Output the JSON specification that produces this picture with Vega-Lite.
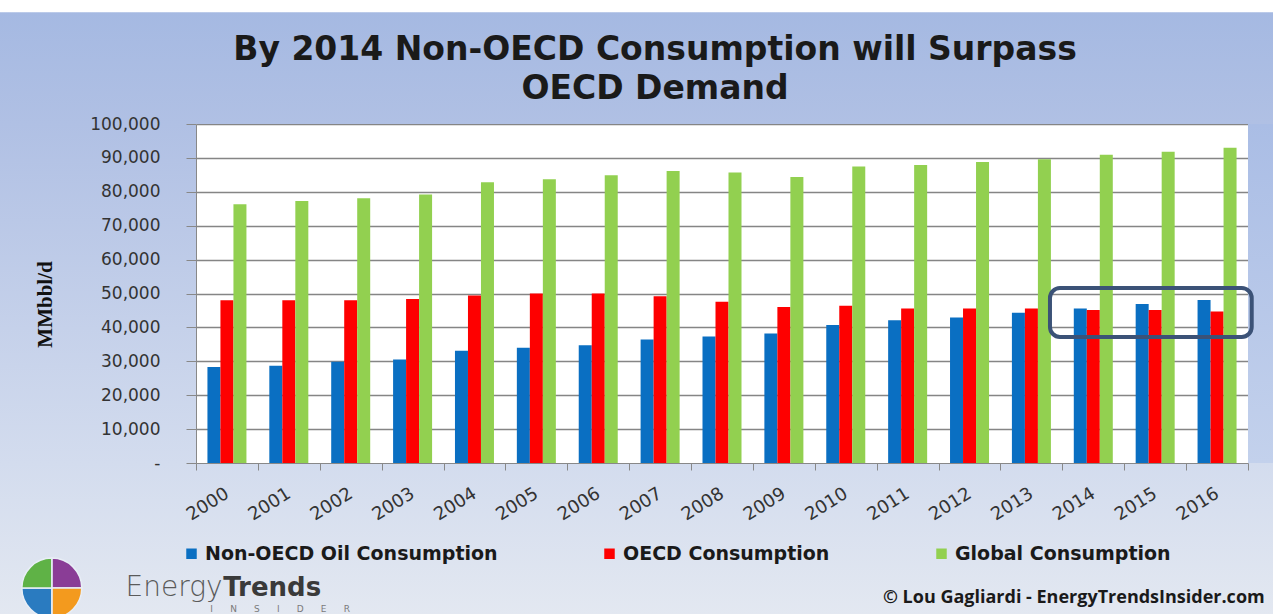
{
  "$schema": "https://vega.github.io/schema/vega-lite/v6.json",
  "width": 1052,
  "height": 339,
  "autosize": "none",
  "padding": {"left": 196, "top": 124, "right": 25, "bottom": 151},
  "background": "white",
  "config": {
    "view": {"fill": "white", "stroke": null},
    "font": "DejaVu Sans",
    "axisY": {
      "titleFont": "Liberation Serif",
      "titleFontSize": 21,
      "titleFontWeight": "bold",
      "titleColor": "#111111",
      "titlePadding": 34,
      "labelFont": "DejaVu Sans",
      "labelFontSize": 17,
      "labelColor": "#333333",
      "labelPadding": 26,
      "labelOverlap": false,
      "tickSize": 10,
      "tickColor": "#888888",
      "domainColor": "#888888",
      "gridColor": "#858585",
      "gridWidth": 1.3
    },
    "axisX": {
      "labelAngle": -32,
      "labelAlign": "right",
      "labelBaseline": "middle",
      "labelFont": "DejaVu Sans",
      "labelFontSize": 18,
      "labelColor": "#333333",
      "labelPadding": 22,
      "labelOverlap": false,
      "tickSize": 7,
      "tickColor": "#888888",
      "domainColor": "#888888",
      "grid": false
    }
  },
  "title": {
    "text": ["By 2014 Non-OECD  Consumption  will Surpass", "OECD Demand"],
    "font": "DejaVu Sans",
    "fontSize": 33,
    "fontWeight": "bold",
    "color": "#1a1a1a",
    "anchor": "middle",
    "frame": "group",
    "dx": -67,
    "dy": 104,
    "offset": 10,
    "lineHeight": 39
  },
  "datasets": {
    "oil": [
      {"year": "2000", "series": "Non-OECD Oil Consumption", "value": 28300},
      {"year": "2000", "series": "OECD Consumption", "value": 48000},
      {"year": "2000", "series": "Global Consumption", "value": 76300},
      {"year": "2001", "series": "Non-OECD Oil Consumption", "value": 28700},
      {"year": "2001", "series": "OECD Consumption", "value": 48000},
      {"year": "2001", "series": "Global Consumption", "value": 77300},
      {"year": "2002", "series": "Non-OECD Oil Consumption", "value": 29900},
      {"year": "2002", "series": "OECD Consumption", "value": 48000},
      {"year": "2002", "series": "Global Consumption", "value": 78100},
      {"year": "2003", "series": "Non-OECD Oil Consumption", "value": 30500},
      {"year": "2003", "series": "OECD Consumption", "value": 48400},
      {"year": "2003", "series": "Global Consumption", "value": 79200},
      {"year": "2004", "series": "Non-OECD Oil Consumption", "value": 33100},
      {"year": "2004", "series": "OECD Consumption", "value": 49400},
      {"year": "2004", "series": "Global Consumption", "value": 82800},
      {"year": "2005", "series": "Non-OECD Oil Consumption", "value": 34000},
      {"year": "2005", "series": "OECD Consumption", "value": 50000},
      {"year": "2005", "series": "Global Consumption", "value": 83700},
      {"year": "2006", "series": "Non-OECD Oil Consumption", "value": 34700},
      {"year": "2006", "series": "OECD Consumption", "value": 50000},
      {"year": "2006", "series": "Global Consumption", "value": 84900},
      {"year": "2007", "series": "Non-OECD Oil Consumption", "value": 36400},
      {"year": "2007", "series": "OECD Consumption", "value": 49200},
      {"year": "2007", "series": "Global Consumption", "value": 86100},
      {"year": "2008", "series": "Non-OECD Oil Consumption", "value": 37300},
      {"year": "2008", "series": "OECD Consumption", "value": 47600},
      {"year": "2008", "series": "Global Consumption", "value": 85700},
      {"year": "2009", "series": "Non-OECD Oil Consumption", "value": 38200},
      {"year": "2009", "series": "OECD Consumption", "value": 46000},
      {"year": "2009", "series": "Global Consumption", "value": 84400},
      {"year": "2010", "series": "Non-OECD Oil Consumption", "value": 40700},
      {"year": "2010", "series": "OECD Consumption", "value": 46400},
      {"year": "2010", "series": "Global Consumption", "value": 87500},
      {"year": "2011", "series": "Non-OECD Oil Consumption", "value": 42100},
      {"year": "2011", "series": "OECD Consumption", "value": 45600},
      {"year": "2011", "series": "Global Consumption", "value": 87900},
      {"year": "2012", "series": "Non-OECD Oil Consumption", "value": 42900},
      {"year": "2012", "series": "OECD Consumption", "value": 45600},
      {"year": "2012", "series": "Global Consumption", "value": 88800},
      {"year": "2013", "series": "Non-OECD Oil Consumption", "value": 44300},
      {"year": "2013", "series": "OECD Consumption", "value": 45600},
      {"year": "2013", "series": "Global Consumption", "value": 89600},
      {"year": "2014", "series": "Non-OECD Oil Consumption", "value": 45600},
      {"year": "2014", "series": "OECD Consumption", "value": 45100},
      {"year": "2014", "series": "Global Consumption", "value": 90900},
      {"year": "2015", "series": "Non-OECD Oil Consumption", "value": 46900},
      {"year": "2015", "series": "OECD Consumption", "value": 45100},
      {"year": "2015", "series": "Global Consumption", "value": 91800},
      {"year": "2016", "series": "Non-OECD Oil Consumption", "value": 48100},
      {"year": "2016", "series": "OECD Consumption", "value": 44700},
      {"year": "2016", "series": "Global Consumption", "value": 93000}
    ],
    "notes": [
      {"copyright": "© Lou Gagliardi - EnergyTrendsInsider.com", "brand1": "Energy", "brand2": "Trends", "brand3": "I\u00a0\u00a0\u00a0\u00a0\u00a0\u00a0N\u00a0\u00a0\u00a0\u00a0\u00a0\u00a0S\u00a0\u00a0\u00a0\u00a0\u00a0\u00a0I\u00a0\u00a0\u00a0\u00a0\u00a0\u00a0D\u00a0\u00a0\u00a0\u00a0\u00a0\u00a0E\u00a0\u00a0\u00a0\u00a0\u00a0\u00a0R"}
    ],
    "logo": [
      {"quadrant": "q1", "share": 1},
      {"quadrant": "q2", "share": 1},
      {"quadrant": "q3", "share": 1},
      {"quadrant": "q4", "share": 1}
    ],
    "frame": [{"part": "background"}]
  },
  "layer": [
    {
      "data": {"name": "frame"},
      "mark": {"type": "rect", "color": {"gradient": "linear", "x1": 0, "y1": 0, "x2": 0, "y2": 1, "stops": [{"offset": 0, "color": "#a5b9e2"}, {"offset": 1, "color": "#b0c0e4"}]}},
      "encoding": {
        "x": {"datum": -3.3, "type": "quantitative", "scale": {"domain": [0, 17], "nice": false, "zero": false}, "axis": null},
        "x2": {"datum": 17.5},
        "y": {"datum": 100000, "type": "quantitative", "scale": {"domain": [0, 100000], "nice": false}, "axis": null},
        "y2": {"datum": 133000}
      }
    },
    {
      "data": {"name": "frame"},
      "mark": {"type": "rect", "color": {"gradient": "linear", "x1": 0, "y1": 0, "x2": 0, "y2": 1, "stops": [{"offset": 0, "color": "#d3dcee"}, {"offset": 1, "color": "#e3e8f1"}]}},
      "encoding": {
        "x": {"datum": -3.3, "type": "quantitative", "scale": {"domain": [0, 17], "nice": false, "zero": false}, "axis": null},
        "x2": {"datum": 17.5},
        "y": {"datum": 0, "type": "quantitative", "scale": {"domain": [0, 100000], "nice": false}, "axis": null},
        "y2": {"datum": -45000}
      }
    },
    {
      "data": {"name": "frame"},
      "mark": {"type": "rect", "color": {"gradient": "linear", "x1": 0, "y1": 0, "x2": 0, "y2": 1, "stops": [{"offset": 0, "color": "#b0c0e4"}, {"offset": 1, "color": "#d3dcee"}]}},
      "encoding": {
        "x": {"datum": -3.3, "type": "quantitative", "scale": {"domain": [0, 17], "nice": false, "zero": false}, "axis": null},
        "x2": {"datum": 0},
        "y": {"datum": 0, "type": "quantitative", "scale": {"domain": [0, 100000], "nice": false}, "axis": null},
        "y2": {"datum": 100000}
      }
    },
    {
      "data": {"name": "frame"},
      "mark": {"type": "rect", "color": {"gradient": "linear", "x1": 0, "y1": 0, "x2": 0, "y2": 1, "stops": [{"offset": 0, "color": "#aabde5"}, {"offset": 1, "color": "#c3d1ec"}]}},
      "encoding": {
        "x": {"datum": 17, "type": "quantitative", "scale": {"domain": [0, 17], "nice": false, "zero": false}, "axis": null},
        "x2": {"datum": 17.5},
        "y": {"datum": 0, "type": "quantitative", "scale": {"domain": [0, 100000], "nice": false}, "axis": null},
        "y2": {"datum": 100000}
      }
    },
    {
      "data": {"name": "oil"},
      "mark": {"type": "bar"},
      "encoding": {
        "x": {
          "field": "year",
          "type": "ordinal",
          "scale": {"paddingInner": 0, "paddingOuter": 0},
          "axis": {"title": null, "tickBand": "extent", "zindex": 1}
        },
        "xOffset": {
          "field": "series",
          "type": "nominal",
          "scale": {
            "domain": ["Non-OECD Oil Consumption", "OECD Consumption", "Global Consumption"],
            "paddingInner": 0,
            "paddingOuter": 0.88
          }
        },
        "y": {
          "field": "value",
          "type": "quantitative",
          "scale": {"domain": [0, 100000], "nice": false},
          "axis": {
            "orient": "left",
            "title": null,
            "grid": true,
            "labels": false,
            "ticks": false,
            "domain": false,
            "zindex": 0,
            "values": [10000, 20000, 30000, 40000, 50000, 60000, 70000, 80000, 90000, 100000]
          }
        },
        "color": {
          "field": "series",
          "type": "nominal",
          "scale": {
            "domain": ["Non-OECD Oil Consumption", "OECD Consumption", "Global Consumption"],
            "range": ["#0a6fc2", "#fe0000", "#92d050"]
          },
          "legend": {
            "title": null,
            "orient": "none",
            "legendX": -14,
            "legendY": 420,
            "direction": "horizontal",
            "symbolType": "square",
            "symbolSize": 110,
            "symbolStrokeWidth": 0,
            "labelFont": "DejaVu Sans",
            "labelFontSize": 19,
            "labelFontWeight": "bold",
            "labelColor": "#1a1a1a",
            "labelOffset": 4,
            "labelLimit": 500,
            "columnPadding": 102
          }
        }
      }
    },
    {
      "data": {"values": [{"label": "highlight"}]},
      "mark": {"type": "rect", "filled": false, "stroke": "#3b5277", "strokeWidth": 4, "cornerRadius": 10},
      "encoding": {
        "x": {"datum": 13.8, "type": "quantitative", "scale": {"domain": [0, 17], "nice": false, "zero": false}, "axis": null},
        "x2": {"datum": 17.06},
        "y": {
          "datum": 51600,
          "type": "quantitative",
          "scale": {"domain": [0, 100000], "nice": false},
          "axis": {
            "orient": "left",
            "title": "MMbbl/d",
            "titleY": 180,
            "grid": false,
            "zindex": 1,
            "values": [0, 10000, 20000, 30000, 40000, 50000, 60000, 70000, 80000, 90000, 100000],
            "labelExpr": "datum.value == 0 ? '-' : format(datum.value, ',')"
          }
        },
        "y2": {"datum": 37200}
      }
    },
    {
      "data": {"name": "notes"},
      "mark": {"type": "text", "align": "right", "baseline": "alphabetic", "font": "Open Sans", "fontSize": 18, "fontWeight": "bold", "color": "#1a1a1a"},
      "encoding": {
        "text": {"field": "copyright"},
        "x": {"datum": 17.27, "type": "quantitative", "scale": {"domain": [0, 17], "nice": false, "zero": false}, "axis": null},
        "y": {"datum": -41300, "type": "quantitative", "scale": {"domain": [0, 100000], "nice": false}, "axis": null}
      }
    },
    {
      "data": {"name": "notes"},
      "mark": {"type": "text", "align": "right", "baseline": "alphabetic", "font": "DejaVu Sans", "fontSize": 28, "fontWeight": 300, "color": "#5a5a5a"},
      "encoding": {
        "text": {"field": "brand1"},
        "x": {"datum": 0.43, "type": "quantitative", "scale": {"domain": [0, 17], "nice": false, "zero": false}, "axis": null},
        "y": {"datum": -39230, "type": "quantitative", "scale": {"domain": [0, 100000], "nice": false}, "axis": null}
      }
    },
    {
      "data": {"name": "notes"},
      "mark": {"type": "text", "align": "left", "baseline": "alphabetic", "font": "DejaVu Sans", "fontSize": 26, "fontWeight": "bold", "color": "#3a3a3a"},
      "encoding": {
        "text": {"field": "brand2"},
        "x": {"datum": 0.44, "type": "quantitative", "scale": {"domain": [0, 17], "nice": false, "zero": false}, "axis": null},
        "y": {"datum": -39230, "type": "quantitative", "scale": {"domain": [0, 100000], "nice": false}, "axis": null}
      }
    },
    {
      "data": {"name": "notes"},
      "mark": {"type": "text", "align": "center", "baseline": "alphabetic", "font": "DejaVu Sans", "fontSize": 9, "color": "#7a7a7a"},
      "encoding": {
        "text": {"field": "brand3"},
        "x": {"datum": 1.36, "type": "quantitative", "scale": {"domain": [0, 17], "nice": false, "zero": false}, "axis": null},
        "y": {"datum": -44000, "type": "quantitative", "scale": {"domain": [0, 100000], "nice": false}, "axis": null}
      }
    },
    {
      "data": {"name": "logo"},
      "mark": {"type": "arc", "outerRadius": 30, "stroke": "#e8eef6", "strokeWidth": 1.5},
      "encoding": {
        "theta": {"field": "share", "type": "quantitative", "stack": true},
        "color": {
          "field": "quadrant",
          "type": "nominal",
          "scale": {"domain": ["q1", "q2", "q3", "q4"], "range": ["#8a3d96", "#f39a1e", "#2a7bc0", "#5fb246"]},
          "legend": null
        },
        "x": {"datum": -2.33, "type": "quantitative", "scale": {"domain": [0, 17], "nice": false, "zero": false}, "axis": null},
        "y": {"datum": -36900, "type": "quantitative", "scale": {"domain": [0, 100000], "nice": false}, "axis": null}
      }
    }
  ],
  "resolve": {"scale": {"x": "independent", "color": "independent"}, "axis": {"y": "independent"}}
}
